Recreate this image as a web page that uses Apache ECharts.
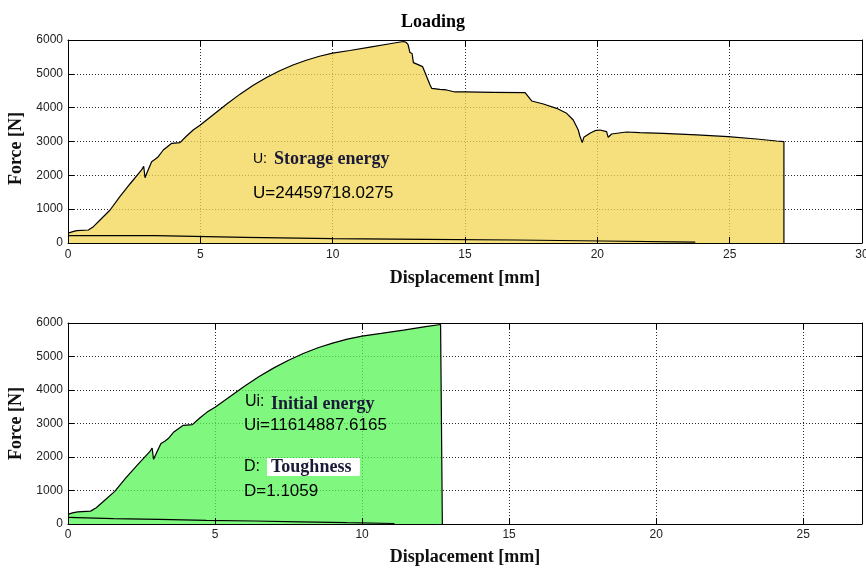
<!DOCTYPE html>
<html><head><meta charset="utf-8">
<script src="https://cdn.jsdelivr.net/npm/echarts@6/dist/echarts.min.js"></script>
<style>html,body{margin:0;padding:0;background:#fff}#c{width:866px;height:569px}</style>
</head><body><div id="c"></div>
<script>
// Loading curve (upper boundary) – displacement [mm] / force [N]
const loadX = [0, 0.15, 0.33, 0.77, 0.96, 1.21, 1.59, 1.96, 2.34, 2.78, 2.86, 2.91, 3.0, 3.16, 3.29, 3.41, 3.6, 3.92, 4.23, 4.48, 4.73, 5.0, 5.5, 6.0, 6.5, 7.0, 7.5, 8.0, 8.5, 9.0, 9.5, 10.0, 10.65, 11.41, 12.16, 12.67, 12.73, 12.78, 12.85, 12.92, 13.0, 13.05, 13.4, 13.68, 13.74, 14.05, 14.3, 14.62, 15.0, 16.07, 17.27, 17.39, 17.52, 17.96, 18.46, 18.84, 19.09, 19.28, 19.34, 19.43, 19.49, 19.72, 19.91, 20.1, 20.35, 20.41, 20.54, 21.1, 21.61, 22.49, 23.75, 24.94, 26.02, 26.77, 27.05];
const loadY = [287, 330, 364, 384, 483, 680, 975, 1370, 1744, 2158, 2270, 1930, 2108, 2404, 2473, 2551, 2749, 2946, 2966, 3163, 3340, 3488, 3800, 4110, 4400, 4660, 4890, 5090, 5260, 5400, 5520, 5610, 5690, 5790, 5890, 5955, 5950, 5930, 5860, 5630, 5600, 5330, 5212, 4670, 4573, 4543, 4523, 4464, 4464, 4454, 4444, 4326, 4198, 4109, 3981, 3833, 3636, 3340, 3163, 2966, 3124, 3242, 3320, 3340, 3291, 3124, 3222, 3281, 3261, 3242, 3193, 3143, 3074, 3015, 2995];
// Unloading (lower) line, top chart
const lowerTopX = [0, 3.3, 6.7, 10.0, 13.5, 16.9, 20.2, 23.7];
const lowerTopY = [216, 168, 128, 108, 89, 59, 25, 25];
// Lower line, bottom chart
const lowerBotX = [0, 1.54, 3.1, 4.7, 6.3, 7.9, 9.48, 11.1];
const lowerBotY = [199, 159, 139, 109, 89, 65, 40, 15];
// End of initial (pre-peak) part
const initialEnd = 12.73;
// Ticks
const topXTicks = [0, 5, 10, 15, 20, 25, 30];
const botXTicks = [0, 5, 10, 15, 20, 25];
const botXMax = 27;
const yTicks = [0, 1000, 2000, 3000, 4000, 5000, 6000];

const pts = (xs, ys) => xs.map((x, i) => [x, ys[i]]);
const topData = pts(loadX, loadY);
topData.push([loadX[loadX.length - 1], 0]);
const botData = pts(loadX, loadY).filter(p => p[0] <= initialEnd);
botData.push([initialEnd, 0]);

const SANS = 'Liberation Sans', SERIF = 'Liberation Serif';
const grids = [
  {left: 68, top: 40, width: 794, height: 203, outerBoundsMode: 'none', containLabel: false},
  {left: 68, top: 323, width: 794, height: 201, outerBoundsMode: 'none', containLabel: false}
];
const gridStyle = {color: '#2a2a2a', width: 1, type: [1, 2]};
const xAxes = [], yAxes = [];
function addAxes(gi, xmin, xmax, xint, showMax, xLabelMargin, xNameGap) {
  xAxes.push({gridIndex: gi, type: 'value', min: xmin, max: xmax, interval: xint, z: 0,
    axisLine: {show: false}, axisTick: {show: false}, axisLabel: {show: false},
    splitLine: {show: true, lineStyle: gridStyle}});
  xAxes.push({gridIndex: gi, type: 'value', position: 'bottom', min: xmin, max: xmax, interval: xint, z: 5,
    axisLine: {show: true, lineStyle: {color: '#000', width: 1}},
    axisTick: {show: true, inside: true, length: 6, lineStyle: {color: '#000'}},
    axisLabel: {show: true, margin: xLabelMargin, color: '#222', fontFamily: SANS, fontSize: 12, showMaxLabel: showMax,
      formatter: v => String(v)},
    splitLine: {show: false},
    name: 'Displacement [mm]', nameLocation: 'middle', nameGap: xNameGap,
    nameTextStyle: {fontFamily: SERIF, fontWeight: 'bold', fontSize: 18, color: '#111'}});
  xAxes.push({gridIndex: gi, type: 'value', position: 'top', min: xmin, max: xmax, interval: xint, z: 5,
    axisLine: {show: true, onZero: false, lineStyle: {color: '#000', width: 1}},
    axisTick: {show: true, inside: true, length: 6, lineStyle: {color: '#000'}},
    axisLabel: {show: false}, splitLine: {show: false}});
  const ymin = yTicks[0], ymax = yTicks[yTicks.length - 1], yint = yTicks[1] - yTicks[0];
  yAxes.push({gridIndex: gi, type: 'value', min: ymin, max: ymax, interval: yint, z: 0,
    axisLine: {show: false}, axisTick: {show: false}, axisLabel: {show: false},
    splitLine: {show: true, lineStyle: gridStyle}});
  yAxes.push({gridIndex: gi, type: 'value', position: 'left', min: ymin, max: ymax, interval: yint, z: 5,
    axisLine: {show: true, onZero: false, lineStyle: {color: '#000', width: 1}},
    axisTick: {show: true, inside: true, length: 6, lineStyle: {color: '#000'}},
    axisLabel: {show: true, margin: 5, color: '#222', fontFamily: SANS, fontSize: 12, formatter: v => String(v)},
    splitLine: {show: false},
    name: 'Force [N]', nameLocation: 'middle', nameGap: 42, nameRotate: 90,
    nameTextStyle: {fontFamily: SERIF, fontWeight: 'bold', fontSize: 18, color: '#111',
      padding: gi === 0 ? [0, 14, 0, 0] : 0}});
  yAxes.push({gridIndex: gi, type: 'value', position: 'right', min: ymin, max: ymax, interval: yint, z: 5,
    axisLine: {show: true, onZero: false, lineStyle: {color: '#000', width: 1}},
    axisTick: {show: true, inside: true, length: 6, lineStyle: {color: '#000'}},
    axisLabel: {show: false}, splitLine: {show: false}});
}
addAxes(0, topXTicks[0], topXTicks[topXTicks.length - 1], topXTicks[1] - topXTicks[0], true, 6, 26);
addAxes(1, botXTicks[0], botXMax, botXTicks[1] - botXTicks[0], false, 5, 24);

const lineCommon = {type: 'line', showSymbol: false, symbol: 'none', animation: false, silent: true};
const series = [
  Object.assign({}, lineCommon, {name: 'Storage energy', xAxisIndex: 0, yAxisIndex: 0, data: topData,
    lineStyle: {color: '#000', width: 1.2}, areaStyle: {color: '#f2d652', opacity: 0.75, origin: 'start'}}),
  Object.assign({}, lineCommon, {name: 'Lower', xAxisIndex: 0, yAxisIndex: 0, data: pts(lowerTopX, lowerTopY),
    step: 'end', lineStyle: {color: '#000', width: 1.2}}),
  Object.assign({}, lineCommon, {name: 'Initial energy', xAxisIndex: 3, yAxisIndex: 3, data: botData,
    lineStyle: {color: '#000', width: 1.2}, areaStyle: {color: '#56f656', opacity: 0.75, origin: 'start'}}),
  Object.assign({}, lineCommon, {name: 'Lower2', xAxisIndex: 3, yAxisIndex: 3, data: pts(lowerBotX, lowerBotY),
    lineStyle: {color: '#000', width: 1.2}})
];

function txt(x, y, text, size, serif, color) {
  return {type: 'text', x: x, y: y, z: 10, silent: true,
    style: {text: text, fontSize: size, fontFamily: serif ? SERIF : SANS, fontWeight: serif ? 'bold' : 'normal',
      fill: color || '#000', verticalAlign: 'middle', textVerticalAlign: 'middle'}};
}
const graphic = [
  txt(253, 159, 'U:', 14, false),
  txt(274, 159, 'Storage energy', 18, true, '#1a1a38'),
  txt(253, 193, 'U=24459718.0275', 17, false),
  txt(245, 402, 'Ui:', 16, false),
  txt(271, 404, 'Initial energy', 18, true, '#1a1a38'),
  txt(244, 425, 'Ui=11614887.6165', 17, false),
  txt(244, 467, 'D:', 16, false),
  {type: 'rect', z: 9, silent: true, shape: {x: 267, y: 458, width: 93, height: 18}, style: {fill: '#fff'}},
  txt(271, 467, 'Toughness', 18, true, '#1a1a38'),
  txt(244, 491, 'D=1.1059', 17, false)
];

const chart = echarts.init(document.getElementById('c'), null, {renderer: 'canvas'});
chart.setOption({
  backgroundColor: '#fff',
  animation: false,
  title: {text: 'Loading', left: 'center', top: 8,
    textStyle: {fontFamily: SERIF, fontWeight: 'bold', fontSize: 18, color: '#000'}},
  grid: grids,
  xAxis: xAxes,
  yAxis: yAxes,
  series: series,
  graphic: graphic
});
</script>
</body></html>
